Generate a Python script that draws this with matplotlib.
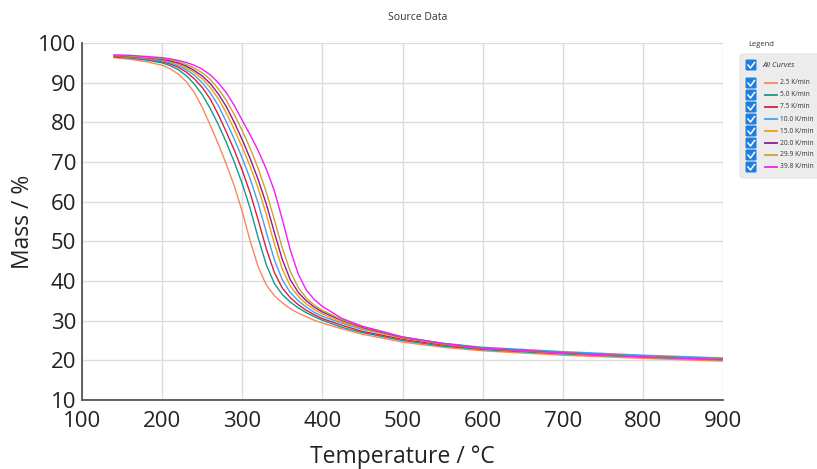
import numpy as np
import matplotlib.pyplot as plt
from matplotlib.lines import Line2D
from matplotlib.patches import FancyBboxPatch

plt.rcParams['font.family'] = ['Open Sans', 'DejaVu Sans']

# temperature grid (degC) shared by all curves
temperature = [140, 160, 180, 200, 210, 220, 230, 240,
               250, 260, 270, 280, 290, 300, 310, 320, 330, 340, 350, 360, 370, 380, 390, 400,
               425, 450, 500, 550, 600, 700, 800, 900]

mass_2_5 = [96.3, 95.9, 95.3, 94.4, 93.5, 92.2, 90.3, 87.6,
            83.8, 79.3, 74.6, 69.5, 64.0, 57.5, 50.0, 43.5, 39.0, 36.3, 34.5, 33.0, 31.9, 31.0, 30.1, 29.4,
            27.9, 26.6, 24.6, 23.3, 22.4, 21.3, 20.5, 19.8]
mass_5_0 = [96.5, 96.2, 95.7, 95.0, 94.3, 93.3, 91.8, 89.7,
            87.0, 83.5, 79.5, 75.0, 70.0, 64.5, 58.2, 50.8, 44.1, 39.4, 36.6, 34.7, 33.2, 32.0, 31.0, 30.1,
            28.3, 27.0, 25.0, 23.6, 22.7, 21.6, 20.8, 20.1]
mass_7_5 = [96.6, 96.3, 95.9, 95.3, 94.7, 93.9, 92.7, 91.0,
            88.8, 85.9, 82.0, 77.6, 73.0, 67.9, 62.1, 55.3, 48.1, 42.2, 38.2, 35.8, 34.0, 32.6, 31.5, 30.5,
            28.8, 27.3, 25.3, 23.9, 22.9, 21.8, 21.0, 20.3]
mass_10_0 = [96.7, 96.4, 96.0, 95.5, 95.0, 94.3, 93.3, 91.9,
             90.0, 87.5, 84.3, 80.2, 75.8, 71.0, 65.7, 59.5, 52.3, 45.4, 40.3, 37.1, 35.0, 33.4, 32.1, 31.1,
             29.3, 27.8, 25.7, 24.3, 23.3, 22.2, 21.3, 20.6]
mass_15_0 = [96.7, 96.5, 96.2, 95.8, 95.3, 94.7, 93.8, 92.6,
             91.0, 88.8, 86.0, 82.4, 78.2, 73.7, 68.8, 63.3, 56.8, 49.4, 43.0, 38.7, 36.1, 34.2, 32.8, 31.7,
             29.6, 28.0, 25.6, 24.1, 23.0, 21.8, 20.9, 20.2]
mass_20_0 = [96.8, 96.6, 96.3, 95.9, 95.5, 95.0, 94.2, 93.1,
             91.7, 89.8, 87.2, 84.0, 80.0, 75.6, 70.8, 65.5, 59.4, 52.3, 45.4, 40.3, 37.1, 35.0, 33.4, 32.2,
             30.0, 28.3, 25.8, 24.2, 23.1, 21.9, 21.0, 20.3]
mass_29_9 = [96.9, 96.7, 96.4, 96.1, 95.8, 95.3, 94.6, 93.7,
             92.5, 90.8, 88.5, 85.6, 82.0, 77.9, 73.4, 68.3, 62.4, 55.5, 48.3, 42.4, 38.3, 35.7, 33.9, 32.6,
             30.2, 28.5, 25.9, 24.2, 23.1, 21.9, 21.0, 20.3]
mass_39_8 = [97.0, 96.9, 96.6, 96.3, 96.0, 95.6, 95.1, 94.4,
             93.4, 92.0, 90.0, 87.5, 84.3, 80.5, 76.8, 72.8, 68.2, 62.8, 55.5, 47.8, 41.7, 37.7, 35.3, 33.6,
             30.5, 28.6, 25.9, 24.3, 23.1, 21.9, 20.9, 20.2]

rates = ['2.5 K/min', '5.0 K/min', '7.5 K/min', '10.0 K/min',
         '15.0 K/min', '20.0 K/min', '29.9 K/min', '39.8 K/min']
series = [mass_2_5, mass_5_0, mass_7_5, mass_10_0, mass_15_0, mass_20_0, mass_29_9, mass_39_8]
colors = ['#f4895f', '#17998a', '#d62040', '#42a2f0',
          '#f39c12', '#8b1e8f', '#c9a23a', '#f020f0']

W, H = 817, 469
fig = plt.figure(figsize=(W / 100, H / 100), dpi=100)
ax = fig.add_axes([82 / W, 1 - 400 / H, (723 - 82) / W, (400 - 43) / H])

for m, lab, c in zip(series, rates, colors):
    ax.plot(temperature, m, color=c, lw=1.0, label=lab)

ax.set_xlim(100, 900)
ax.set_ylim(10, 100)
ax.set_xticks(range(100, 901, 100))
ax.set_yticks(range(10, 101, 10))
ax.grid(color='#dcdcdc', lw=1.0)
ax.set_axisbelow(True)
for s in ['top', 'right']:
    ax.spines[s].set_visible(False)
for s in ['left', 'bottom']:
    ax.spines[s].set_color('#555555')
    ax.spines[s].set_linewidth(1.3)
ax.tick_params(labelsize=16, length=0, labelcolor='#222222')
ax.tick_params(axis='x', pad=8)
ax.tick_params(axis='y', pad=4)
ax.set_xlabel('Temperature / °C', fontsize=16.5, color='#222222', labelpad=9)
ax.set_ylabel('Mass / %', fontsize=16.5, color='#222222', labelpad=2)

fig.text(418 / W, 1 - 17 / H, 'Source Data', fontsize=7.5, color='#333333',
         ha='center', va='center')


# legend panel, drawn in pixel positions
def fx(x):
    return x / W


def fy(y):
    return 1 - y / H


fig.text(fx(748), fy(44), 'Legend', fontsize=5.5, color='#333333', va='center')
fig.add_artist(FancyBboxPatch((fx(740), fy(178)), fx(90), 124 / H,
                              boxstyle='round,pad=0,rounding_size=0.006',
                              transform=fig.transFigure, fc='#ececec', ec='#dadada', lw=0.6))


def checkbox(y):
    fig.add_artist(FancyBboxPatch((fx(745.5), fy(y + 5.5)), 11 / W, 11 / H,
                                  boxstyle='round,pad=0,rounding_size=0.002',
                                  transform=fig.transFigure, fc='#1f7fe0', ec='none'))
    fig.add_artist(Line2D([fx(748), fx(750.5), fx(754.5)], [fy(y), fy(y + 3), fy(y - 2.5)],
                          transform=fig.transFigure, color='white', lw=1.1))


checkbox(65)
fig.text(fx(762), fy(65.5), 'All Curves', fontsize=5.5, style='italic', color='#333333', va='center')

row_y = [83, 95, 107, 119, 131, 143, 155, 167]
for yy, lab, c in zip(row_y, rates, colors):
    checkbox(yy)
    fig.add_artist(Line2D([fx(765), fx(777)], [fy(yy), fy(yy)], transform=fig.transFigure,
                          color=c, lw=1.3))
    fig.text(fx(780), fy(yy), lab, fontsize=4.8, color='#333333', va='center')

plt.savefig('out.png', dpi=100)
